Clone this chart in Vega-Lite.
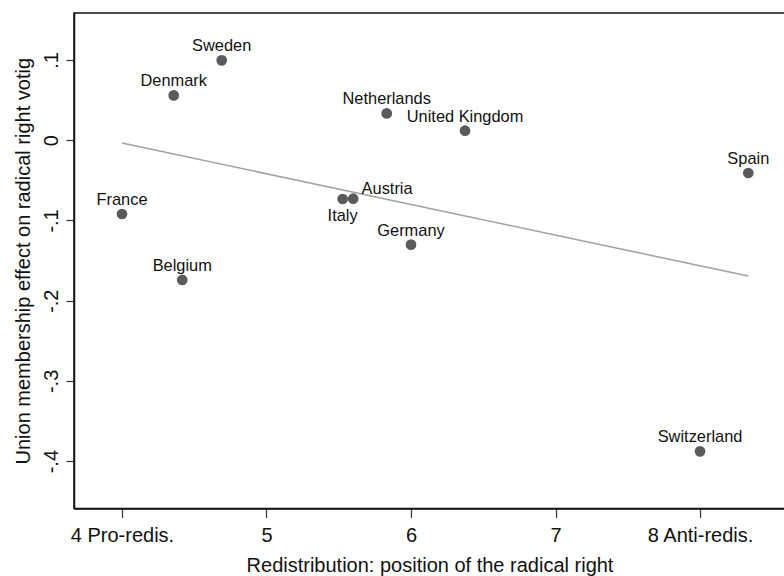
{
  "$schema": "https://vega.github.io/schema/vega-lite/v6.json",
  "autosize": {"type": "none"},
  "padding": {"left": 74, "top": 13, "right": 0, "bottom": 67.5},
  "width": 711,
  "height": 495.5,
  "background": "white",
  "config": {
    "font": "Liberation Sans",
    "view": {"stroke": "#111111", "strokeWidth": 1.5},
    "axis": {
      "grid": false,
      "domainColor": "#111111",
      "domainWidth": 1.5,
      "tickColor": "#333333",
      "tickWidth": 1.2,
      "labelFont": "Liberation Sans",
      "titleFont": "Liberation Sans",
      "labelColor": "#111111",
      "titleColor": "#111111",
      "labelFontSize": 20,
      "titleFontSize": 20,
      "titleFontWeight": "normal",
      "labelOverlap": false,
      "labelFlush": false
    }
  },
  "data": {
    "values": [
      {"country": "France", "x": 4.0, "y": -0.092},
      {"country": "Denmark", "x": 4.358, "y": 0.0558},
      {"country": "Sweden", "x": 4.69, "y": 0.0995},
      {"country": "Belgium", "x": 4.417, "y": -0.1742},
      {"country": "Italy", "x": 5.527, "y": -0.0733},
      {"country": "Austria", "x": 5.6, "y": -0.0729},
      {"country": "Netherlands", "x": 5.832, "y": 0.0334},
      {"country": "United Kingdom", "x": 6.374, "y": 0.0118},
      {"country": "Germany", "x": 6.0, "y": -0.1302},
      {"country": "Spain", "x": 8.334, "y": -0.0409},
      {"country": "Switzerland", "x": 8.0, "y": -0.3878}
    ]
  },
  "encoding": {
    "x": {
      "field": "x",
      "type": "quantitative",
      "scale": {"domain": [3.668, 8.588], "nice": false, "zero": false},
      "axis": {
        "title": "Redistribution: position of the radical right",
        "values": [4, 5, 6, 7, 8],
        "labelExpr": "datum.value == 4 ? '4 Pro-redis.' : datum.value == 8 ? '8 Anti-redis.' : datum.label",
        "tickSize": 9,
        "labelPadding": 8,
        "titlePadding": 10
      }
    },
    "y": {
      "field": "y",
      "type": "quantitative",
      "scale": {"domain": [-0.459, 0.1585], "nice": false, "zero": false},
      "axis": {
        "title": "Union membership effect on radical right votig",
        "values": [-0.4, -0.3, -0.2, -0.1, 0, 0.1],
        "labelExpr": "datum.value > 0.05 ? '.1' : abs(datum.value) < 0.01 ? '0' : '-.' + format(abs(datum.value) * 10, '.0f')",
        "labelAngle": -90,
        "labelAlign": "center",
        "labelBaseline": "bottom",
        "tickSize": 8,
        "labelPadding": 5,
        "titlePadding": 8
      }
    }
  },
  "layer": [
    {
      "transform": [{"regression": "y", "on": "x"}],
      "mark": {"type": "line", "color": "#a3a3a3", "strokeWidth": 1.6}
    },
    {
      "mark": {"type": "circle", "color": "#5a5a5a", "opacity": 1, "size": 115}
    },
    {
      "transform": [{"filter": "datum.country != 'Italy' && datum.country != 'Austria'"}],
      "mark": {"type": "text", "baseline": "alphabetic", "align": "center", "dy": -9, "fontSize": 16.4, "color": "#111111"},
      "encoding": {"text": {"field": "country"}}
    },
    {
      "transform": [{"filter": "datum.country == 'Italy'"}],
      "mark": {"type": "text", "baseline": "alphabetic", "align": "center", "dy": 22.4, "fontSize": 16.4, "color": "#111111"},
      "encoding": {"text": {"field": "country"}}
    },
    {
      "transform": [{"filter": "datum.country == 'Austria'"}],
      "mark": {"type": "text", "baseline": "alphabetic", "align": "left", "dx": 8.4, "dy": -4.7, "fontSize": 16.4, "color": "#111111"},
      "encoding": {"text": {"field": "country"}}
    }
  ]
}
